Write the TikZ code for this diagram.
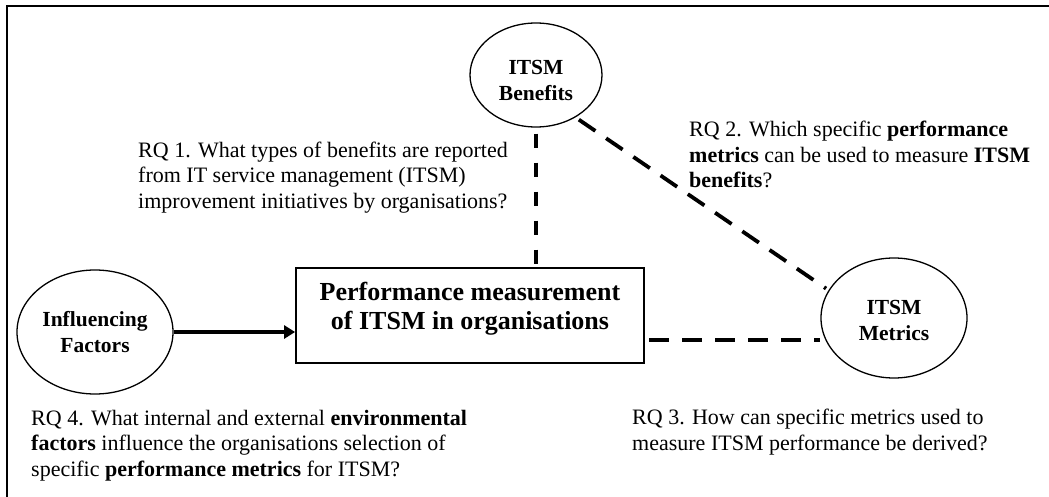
\documentclass[tikz,border=0pt]{standalone}
\usepackage{fontspec}
\setmainfont{Liberation Serif}
\usetikzlibrary{arrows.meta,shapes.geometric}
\begin{document}
\begin{tikzpicture}[x=1pt,y=-1pt,
  oval/.style={draw, ellipse, line width=1.3pt, inner sep=0pt},
  ovaltext/.style={align=center, inner sep=0pt, font=\fontsize{21.5}{26}\selectfont\bfseries},
  mainbox/.style={draw, rectangle, line width=1.8pt, minimum width=348pt,
    minimum height=95pt, inner sep=0pt},
  boxtext/.style={align=center, inner sep=0pt, font=\fontsize{26}{29}\selectfont\bfseries},
  rq/.style={align=left, inner sep=0pt, anchor=base west, font=\fontsize{22}{25.5}\selectfont},
  link/.style={line width=3.8pt, dash pattern=on 20pt off 13pt},
  vlink/.style={line width=3.8pt, dash pattern=on 14pt off 15pt},
  arrowlink/.style={line width=3.5pt, -{Triangle[length=11pt,width=13pt]}},
  frame/.style={line width=2.3pt},
]
\useasboundingbox (0,0) rectangle (1049,497);
\fill[white] (0,0) rectangle (1049,497);
% frame (top and left only)
\draw[frame] (6.8,497) -- (6.8,6) -- (1049,6);

% nodes
\node[oval, minimum width=132pt, minimum height=104pt] (ben) at (536,75) {};
\node[ovaltext] (bentxt) at ([yshift=-5pt]ben.center) {ITSM\\Benefits};
\node[oval, minimum width=156pt, minimum height=124pt] (inf) at (95,332) {};
\node[ovaltext] (inftxt) at (inf.center) {Influencing\\Factors};
\node[oval, minimum width=146pt, minimum height=120pt] (met) at (894,318) {};
\node[ovaltext] (mettxt) at ([yshift=-2.5pt]met.center) {ITSM\\Metrics};
\node[mainbox] (box) at (470,315.5) {};
\node[boxtext] (boxtxt) at (470,308.5) {Performance measurement\\of ITSM in organisations};

% connectors
\draw[arrowlink] (inf.east) -- (box.west |- inf.east);
\draw[vlink, shorten <=6pt, shorten >=3pt] (ben.south) -- (ben.south |- box.north);
\draw[link, shorten <=4pt, shorten >=3pt] (ben.-47) -- (met.157);
\coordinate (hstart) at (649,340);
\draw[link] (hstart) -- (met.west |- hstart);

% research questions (anchor = baseline of last line)
\node[rq] (rq1) at (138,208) {RQ 1. What types of benefits are reported\\from IT service management (ITSM)\\improvement initiatives by organisations?};
\node[rq] (rq2) at (689,188) {RQ 2. Which specific \textbf{performance}\\\textbf{metrics} can be used to measure \textbf{ITSM}\\\textbf{benefits}?};
\node[rq] (rq3) at (632,450) {RQ 3. How can specific metrics used to\\measure ITSM performance be derived?};
\node[rq] (rq4) at (31,476) {RQ 4. What internal and external \textbf{environmental}\\\textbf{factors} influence the organisations selection of\\specific \textbf{performance metrics} for ITSM?};
\end{tikzpicture}
\end{document}
